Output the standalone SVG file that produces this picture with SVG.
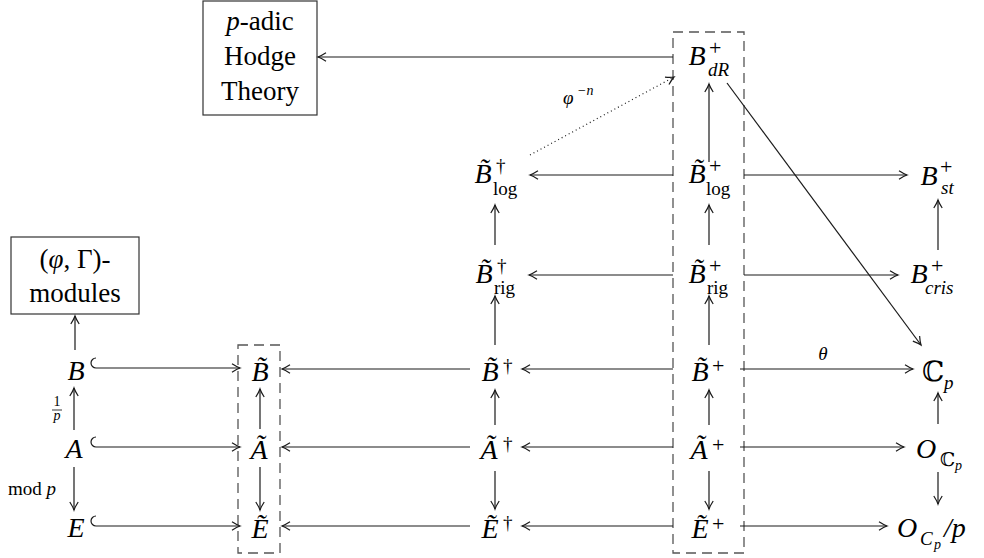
<svg xmlns="http://www.w3.org/2000/svg" width="984" height="558" viewBox="0 0 984 558">
<style>
text{fill:#000;font-family:"Liberation Serif","DejaVu Serif",serif}
.m{font-size:28px;font-style:italic;text-anchor:middle}
.mu{font-size:28px}
.r{font-size:27px;text-anchor:middle}
.s{font-size:19px}
.p{font-size:22px}
.si{font-size:19px;font-style:italic}
.xs{font-size:14px}
.xsi{font-size:14px;font-style:italic}
.c{text-anchor:middle}
.ln{fill:none;stroke:#1a1a1a;stroke-width:1.2}
.ar{marker-end:url(#ah)}
.box{fill:none;stroke:#333;stroke-width:1.2}
.dbox{fill:none;stroke:#555;stroke-width:1.3;stroke-dasharray:10 6}
</style>
<defs>
<marker id="ah" markerWidth="12" markerHeight="12" viewBox="-10 -6 12 12" refX="0" refY="0" orient="auto" markerUnits="userSpaceOnUse" overflow="visible">
<path d="M-8,-4.2 Q-3,-1 0,0 Q-3,1 -8,4.2" fill="none" stroke="#1a1a1a" stroke-width="1.2"/>
</marker>
</defs>

<g id="dashed-boxes">
<rect class="dbox" x="238" y="345" width="42" height="208"/>
<rect class="dbox" x="673" y="32" width="71" height="521"/>
</g>

<g id="hodge">
<rect class="box" x="203" y="1" width="114" height="114"/>
<text class="r" x="260" y="30"><tspan font-style="italic">p</tspan>-adic</text>
<text class="r" x="260" y="65">Hodge</text>
<text class="r" x="260" y="100">Theory</text>
</g>

<g id="phigamma">
<rect class="box" x="11" y="237" width="128" height="77"/>
<text class="r" x="75" y="268">(<tspan font-style="italic">φ</tspan>, Γ)-</text>
<text class="r" x="75" y="302">modules</text>
</g>

<g id="BdR">
<text class="m" x="697" y="65">B</text>
<text class="p" x="709" y="55">+</text>
<text class="si" x="708" y="76">dR</text>
</g>

<g id="Bdaglog">
<text class="m" x="483" y="183">B̃</text>
<text class="s" x="496" y="172">†</text>
<text class="s" x="493" y="195">log</text>
</g>

<g id="Bpluslog">
<text class="m" x="697" y="183">B̃</text>
<text class="p" x="709" y="173">+</text>
<text class="s" x="706" y="195">log</text>
</g>

<g id="Bst">
<text class="m" x="929" y="185">B</text>
<text class="p" x="940" y="174">+</text>
<text class="si" x="941" y="194">st</text>
</g>

<g id="Bdagrig">
<text class="m" x="484" y="283">B̃</text>
<text class="s" x="497" y="272">†</text>
<text class="s" x="494" y="294">rig</text>
</g>

<g id="Bplusrig">
<text class="m" x="697" y="283">B̃</text>
<text class="p" x="709" y="273">+</text>
<text class="s" x="707" y="294">rig</text>
</g>

<g id="Bcris">
<text class="m" x="919" y="283">B</text>
<text class="p" x="931" y="273">+</text>
<text class="si" x="925" y="294">cris</text>
</g>

<g id="B"><text class="m" x="76" y="380">B</text></g>
<g id="A"><text class="m" x="74" y="458">A</text></g>
<g id="E"><text class="m" x="76" y="537">E</text></g>

<g id="Btilde"><text class="m" x="260" y="381">B̃</text></g>
<g id="Atilde"><text class="m" x="259" y="459">Ã</text></g>
<g id="Etilde"><text class="m" x="260" y="538">Ẽ</text></g>

<g id="Bdag">
<text class="m" x="490" y="381">B̃</text>
<text class="s" x="503" y="372">†</text>
</g>
<g id="Adag">
<text class="m" x="489" y="459">Ã</text>
<text class="s" x="503" y="450">†</text>
</g>
<g id="Edag">
<text class="m" x="490" y="538">Ẽ</text>
<text class="s" x="503" y="529">†</text>
</g>

<g id="Bplus">
<text class="m" x="700" y="381">B̃</text>
<text class="p" x="712" y="373">+</text>
</g>
<g id="Aplus">
<text class="m" x="699" y="459">Ã</text>
<text class="p" x="712" y="452">+</text>
</g>
<g id="Eplus">
<text class="m" x="700" y="538">Ẽ</text>
<text class="p" x="712" y="531">+</text>
</g>

<g id="Cp">
<text class="mu" x="922" y="381">ℂ</text>
<text class="si" x="944" y="389">p</text>
</g>
<g id="OCp">
<text class="m" x="926" y="458">O</text>
<text class="s" x="940" y="466">ℂ</text>
<text class="xsi" x="955" y="470">p</text>
</g>
<g id="OCpmodp">
<text class="m" x="907" y="537">O</text>
<text class="si" x="920" y="545">C</text>
<text class="xsi" x="934" y="549">p</text>
<text class="mu" x="944" y="537" font-style="italic">/p</text>
</g>

<g id="connectors">
<path class="ln ar" d="M673,57 H318"/>
<path class="ln ar" d="M673,175 H530"/>
<path class="ln ar" d="M744,175 H907"/>
<path class="ln ar" d="M673,275 H529"/>
<path class="ln ar" d="M744,275 H898"/>
<path class="ln ar" d="M96,358 a5,5 0 0 0 0,10 H240"/>
<path class="ln ar" d="M96,437 a5,5 0 0 0 0,10 H240"/>
<path class="ln ar" d="M96,516 a5,5 0 0 0 0,10 H240"/>
<path class="ln ar" d="M470,369 H282"/>
<path class="ln ar" d="M673,369 H522"/>
<path class="ln ar" d="M470,447 H282"/>
<path class="ln ar" d="M673,447 H522"/>
<path class="ln ar" d="M470,526 H282"/>
<path class="ln ar" d="M673,526 H522"/>
<path class="ln ar" d="M740,369 H913"/>
<path class="ln ar" d="M740,447 H904"/>
<path class="ln ar" d="M740,526 H887"/>
<path class="ln ar" d="M75,350 V316"/>
<path class="ln ar" d="M74,430 V388"/>
<path class="ln ar" d="M74,467 V510"/>
<path class="ln ar" d="M260,429 V389"/>
<path class="ln ar" d="M260,467 V510"/>
<path class="ln ar" d="M495,425 V390"/>
<path class="ln ar" d="M495,471 V509"/>
<path class="ln ar" d="M495,345 V296"/>
<path class="ln ar" d="M495,245 V205"/>
<path class="ln ar" d="M709,425 V390"/>
<path class="ln ar" d="M709,471 V509"/>
<path class="ln ar" d="M709,345 V296"/>
<path class="ln ar" d="M709,245 V205"/>
<path class="ln ar" d="M709,162 V84"/>
<path class="ln ar" d="M938,250 V200"/>
<path class="ln ar" d="M938,424 V393"/>
<path class="ln ar" d="M938,472 V504"/>
<path class="ln ar" d="M727,83 L921,345"/>
<path class="ln ar" d="M530,155 L674,77" stroke-dasharray="1 3"/>
<text class="si" x="563" y="104" font-size="21">φ</text>
<text class="xsi" x="577" y="95">−n</text>
<text class="si c" x="823" y="360">θ</text>
<text class="xs c" x="57" y="406">1</text>
<path d="M52,410 H62" stroke="#000" stroke-width="0.8"/>
<text class="xsi c" x="57" y="420">p</text>
<text class="s" x="8" y="495">mod <tspan font-style="italic">p</tspan></text>
</g>
</svg>
